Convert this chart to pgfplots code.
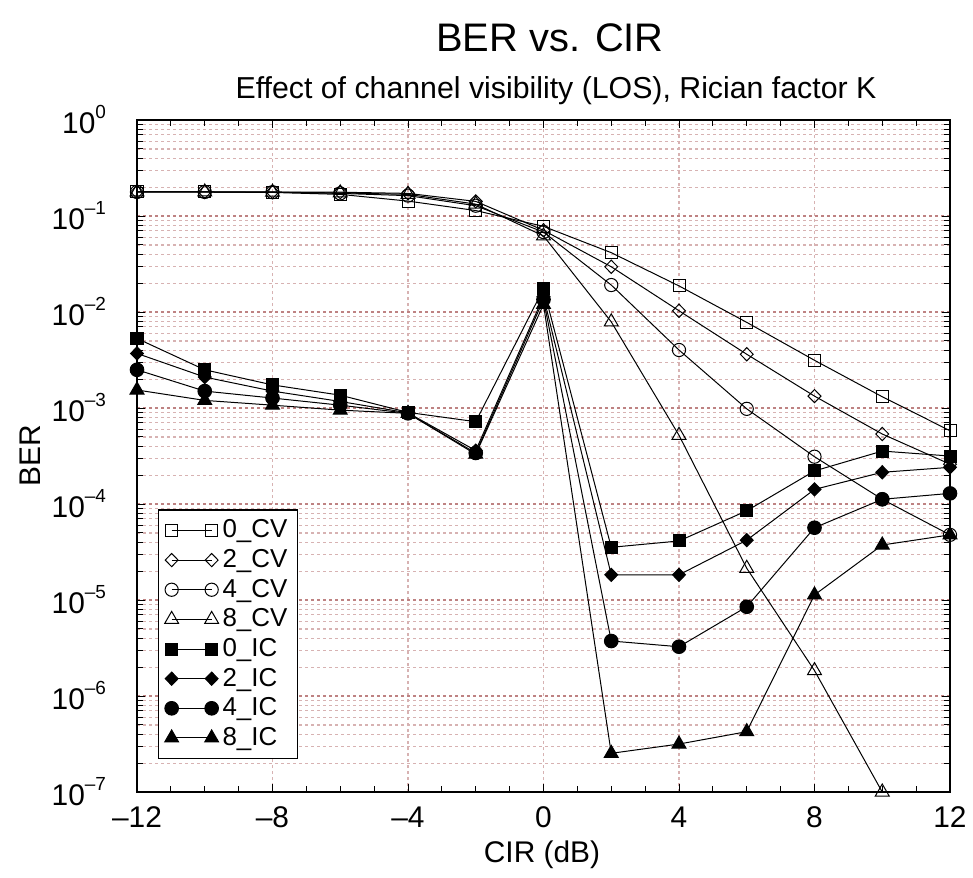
\documentclass[border=0pt]{standalone}
\usepackage{fontspec}
\setmainfont{Liberation Sans}
\usepackage{pgfplots}
\pgfplotsset{compat=1.18}

\definecolor{gridmaj}{RGB}{190,130,130}
\definecolor{gridmin}{RGB}{215,178,178}

% superscript tick label for the log axis
\newcommand{\tp}[1]{10\raisebox{7.5bp}{\fontsize{9.5}{9.5}\selectfont #1}}

\begin{document}
\begin{tikzpicture}
\useasboundingbox (0,0) rectangle (486.5bp,439bp);

\begin{axis}[
  at={(68.5bp,43bp)}, anchor=south west,
  scale only axis, width=406.5bp, height=336bp,
  ymode=log,
  xmin=-12, xmax=12, ymin=1e-7, ymax=1,
  xtick={-12,-8,...,12},
  xticklabels={–12,–8,–4,0,4,8,12},
  minor x tick num=3,
  ytick={1e-7,1e-6,1e-5,1e-4,1e-3,1e-2,1e-1,1},
  yticklabels={\tp{–7},\tp{–6},\tp{–5},\tp{–4},\tp{–3},\tp{–2},\tp{–1},\tp{0}},
  tick label style={font=\fontsize{15}{17}\selectfont},
  yticklabel style={xshift=-12bp},
  xticklabel style={yshift=-4bp},
  tick align=inside,
  major tick length=4bp, minor tick length=3bp,
  tick style={black, line width=0.5bp},
  axis line style={line width=1bp},
  xmajorgrids, ymajorgrids, yminorgrids,
  major x grid style={gridmin, line width=0.6bp, dash pattern=on 1.5bp off 1.5bp},
  major y grid style={gridmaj, line width=0.6bp, dash pattern=on 1.5bp off 1.5bp},
  minor y grid style={gridmin, line width=0.6bp, dash pattern=on 1.5bp off 1.5bp},
  every axis plot/.append style={black, line width=0.5bp},
  legend image code/.code={\draw[#1] plot coordinates {(0bp,0bp) (20bp,0bp)};},
  legend style={at={(0.026,0.049)}, anchor=south west, draw=black,
    line width=0.6bp, fill=white, font=\fontsize{13}{14}\selectfont,
    row sep=0.3bp, inner xsep=3bp, inner ysep=3bp},
  legend cell align=left,
]

% open marks: CV
\addplot[mark=square, mark size=3bp] coordinates {
  (-12,0.178) (-10,0.178) (-8,0.176) (-6,0.168) (-4,0.143) (-2,0.114)
  (0,0.078) (2,0.0415) (4,0.0187) (6,0.0078) (8,0.00314) (10,0.00131) (12,0.00058)};
\addlegendentry{0\_CV}
\addplot[mark=diamond, mark size=3.3bp, mark options={xscale=1.3}] coordinates {
  (-12,0.178) (-10,0.178) (-8,0.178) (-6,0.177) (-4,0.172) (-2,0.142)
  (0,0.071) (2,0.0296) (4,0.0103) (6,0.00363) (8,0.00133) (10,0.000536) (12,0.00026)};
\addlegendentry{2\_CV}
\addplot[mark=o, mark size=3.3bp] coordinates {
  (-12,0.178) (-10,0.178) (-8,0.177) (-6,0.172) (-4,0.163) (-2,0.128)
  (0,0.068) (2,0.0191) (4,0.00402) (6,0.00098) (8,0.000311) (10,0.000112) (12,0.0000477)};
\addlegendentry{4\_CV}
\addplot[mark=triangle, mark size=4bp] coordinates {
  (-12,0.178) (-10,0.178) (-8,0.177) (-6,0.174) (-4,0.168) (-2,0.133)
  (0,0.062) (2,0.0079) (4,0.00052) (6,0.0000214) (8,0.00000184) (10,0.0000001)};
\addlegendentry{8\_CV}

% filled marks: IC
\addplot[mark=square*, mark size=3bp, mark options={fill=black}] coordinates {
  (-12,0.0053) (-10,0.0025) (-8,0.00174) (-6,0.00136) (-4,0.00090) (-2,0.00072)
  (0,0.0175) (2,0.0000354) (4,0.0000412) (6,0.000085) (8,0.000221) (10,0.000356) (12,0.000316)};
\addlegendentry{0\_IC}
\addplot[mark=diamond*, mark size=3.3bp, mark options={fill=black, xscale=1.3}] coordinates {
  (-12,0.0037) (-10,0.0021) (-8,0.0015) (-6,0.00117) (-4,0.00089) (-2,0.00036)
  (0,0.0145) (2,0.0000183) (4,0.0000183) (6,0.000042) (8,0.000142) (10,0.000214) (12,0.000241)};
\addlegendentry{2\_IC}
\addplot[mark=*, mark size=3.4bp, mark options={fill=black}] coordinates {
  (-12,0.0025) (-10,0.0015) (-8,0.00127) (-6,0.00107) (-4,0.00088) (-2,0.00034)
  (0,0.0135) (2,0.00000374) (4,0.00000326) (6,0.0000085) (8,0.0000566) (10,0.000112) (12,0.000129)};
\addlegendentry{4\_IC}
\addplot[mark=triangle*, mark size=4bp, mark options={fill=black}] coordinates {
  (-12,0.00154) (-10,0.0012) (-8,0.00107) (-6,0.00095) (-4,0.00088) (-2,0.00033)
  (0,0.012) (2,0.000000253) (4,0.000000316) (6,0.000000425) (8,0.0000113) (10,0.0000374) (12,0.0000477)};
\addlegendentry{8\_IC}

\end{axis}

\node[font=\fontsize{20}{24}\selectfont] at (275bp,420bp) {BER vs. CIR};
\node[font=\fontsize{15.2}{17}\selectfont] at (278bp,393.5bp)
  {Effect of channel visibility (LOS), Rician factor K};
\node[font=\fontsize{15}{17}\selectfont, rotate=90] at (15bp,211bp) {BER};
\node[font=\fontsize{15}{17}\selectfont] at (271bp,11.5bp) {CIR (dB)};
\end{tikzpicture}
\end{document}
